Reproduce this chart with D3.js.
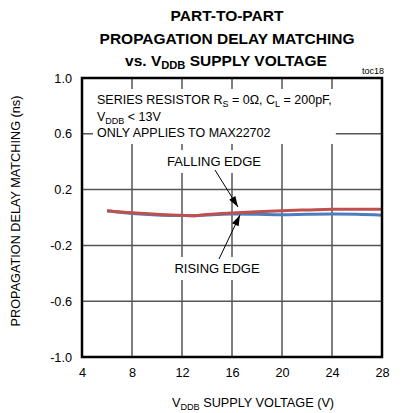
<!DOCTYPE html>
<html><head><meta charset="utf-8">
<script src="https://cdn.jsdelivr.net/npm/d3@7"></script>
<style>
html,body{margin:0;padding:0;background:#fff;}
svg text{font-family:"Liberation Sans",Arial,sans-serif;fill:#000;}
</style></head>
<body><svg id="c" width="404" height="413"></svg>
<script>
// ---- data ----
const voltage  = [6, 8, 10, 12, 13, 14, 16, 18, 20, 22, 24, 26, 28];
const falling  = [0.049, 0.034, 0.023, 0.016, 0.013, 0.021, 0.032, 0.041, 0.049, 0.054, 0.059, 0.060, 0.059];
const rising   = [0.049, 0.029, 0.018, 0.014, 0.013, 0.018, 0.025, 0.023, 0.020, 0.023, 0.025, 0.023, 0.016];
const xTicks = [4, 8, 12, 16, 20, 24, 28];
const yTicks = [-1.0, -0.6, -0.2, 0.2, 0.6, 1.0];

const svg = d3.select("#c");
const L = 82, R = 382, T = 78, B = 357;
const x = d3.scaleLinear().domain([4, 28]).range([L, R]);
const y = d3.scaleLinear().domain([-1, 1]).range([B, T]);

function rich(sel, segs) {
  segs.forEach(s => {
    if (s.sub) {
      sel.append("tspan").attr("font-size", "0.72em").attr("dy", 3).text(s.t);
    } else {
      const ts = sel.append("tspan").text(s.t);
      if (s.after) ts.attr("dy", -3);
    }
  });
  return sel;
}

// title
const title = svg.append("g").attr("font-weight", "bold").attr("font-size", 15.5).attr("text-anchor", "middle");
title.append("text").attr("x", 227).attr("y", 21).text("PART-TO-PART");
title.append("text").attr("x", 227).attr("y", 44).text("PROPAGATION DELAY MATCHING");
rich(title.append("text").attr("x", 226).attr("y", 66),
  [{t: "vs. V"}, {t: "DDB", sub: true}, {t: " SUPPLY VOLTAGE", after: true}]);
svg.append("text").attr("x", 384).attr("y", 74).attr("text-anchor", "end").attr("font-size", 9).text("toc18");

// grid
const grid = svg.append("g");
grid.selectAll("line.v").data(xTicks.slice(1, -1)).join("line")
  .attr("x1", d => x(d)).attr("x2", d => x(d)).attr("y1", T).attr("y2", B)
  .attr("stroke", "#000").attr("stroke-width", 1);
grid.selectAll("line.h").data(yTicks.slice(1, -1)).join("line")
  .attr("y1", d => y(d)).attr("y2", d => y(d)).attr("x1", L).attr("x2", R)
  .attr("stroke", "#555").attr("stroke-width", 1.5);

// axes labels
const yAxis = svg.append("g").attr("transform", `translate(${L},0)`)
  .call(d3.axisLeft(y).tickValues(yTicks).tickSize(0).tickPadding(10).tickFormat(d => d.toFixed(1)));
yAxis.select(".domain").remove();
yAxis.selectAll("text").attr("font-size", 12.7).attr("font-family", null);
const xAxis = svg.append("g").attr("transform", `translate(0,${B})`)
  .call(d3.axisBottom(x).tickValues(xTicks).tickSize(0).tickPadding(11).tickFormat(d => String(d)));
xAxis.select(".domain").remove();
xAxis.selectAll("text").attr("font-size", 12.7).attr("font-family", null);

svg.append("text").attr("transform", "translate(20,211) rotate(-90)").attr("text-anchor", "middle")
  .attr("font-size", 12.7).text("PROPAGATION DELAY MATCHING (ns)");
rich(svg.append("text").attr("x", 253).attr("y", 407).attr("text-anchor", "middle").attr("font-size", 12.7),
  [{t: "V"}, {t: "DDB", sub: true}, {t: " SUPPLY VOLTAGE (V)", after: true}]);

// annotation boxes
function boxed(g, pad) {
  const bb = g.node().getBBox();
  g.insert("rect", ":first-child").attr("x", bb.x - pad).attr("y", bb.y - pad)
    .attr("width", bb.width + 2 * pad).attr("height", bb.height + 2 * pad).attr("fill", "#fff");
}
const note = svg.append("g").attr("font-size", 12.5);
rich(note.append("text").attr("x", 97).attr("y", 104),
  [{t: "SERIES RESISTOR R"}, {t: "S", sub: true}, {t: " = 0Ω, C", after: true}, {t: "L", sub: true}, {t: " = 200pF,", after: true}]);
rich(note.append("text").attr("x", 97).attr("y", 121),
  [{t: "V"}, {t: "DDB", sub: true}, {t: " < 13V", after: true}]);
note.append("text").attr("x", 97).attr("y", 137).text("ONLY APPLIES TO MAX22702");
boxed(note, 4);

const fl = svg.append("g").attr("font-size", 13);
fl.append("text").attr("x", 214).attr("y", 166).attr("text-anchor", "middle").text("FALLING EDGE");
boxed(fl, 4);
const rl = svg.append("g").attr("font-size", 13);
rl.append("text").attr("x", 217).attr("y", 273).attr("text-anchor", "middle").text("RISING EDGE");
boxed(rl, 4);

// curves
const line = (vals) => d3.line().x((d, i) => x(voltage[i])).y(d => y(d)).curve(d3.curveMonotoneX)(vals);
svg.append("path").attr("d", line(rising)).attr("fill", "none").attr("stroke", "#4a7ebf").attr("stroke-width", 3);
svg.append("path").attr("d", line(falling)).attr("fill", "none").attr("stroke", "#c0504d").attr("stroke-width", 3);

// arrows
svg.append("defs").append("marker").attr("id", "ah").attr("viewBox", "0 0 12 10")
  .attr("refX", 12).attr("refY", 5).attr("markerWidth", 12).attr("markerHeight", 9)
  .attr("markerUnits", "userSpaceOnUse").attr("orient", "auto")
  .append("path").attr("d", "M0,1 L12,5 L0,9 Z").attr("fill", "#000");
svg.append("line").attr("x1", 215).attr("y1", 170).attr("x2", 238).attr("y2", 207)
  .attr("stroke", "#000").attr("stroke-width", 1).attr("marker-end", "url(#ah)");
svg.append("line").attr("x1", 219).attr("y1", 259).attr("x2", 240).attr("y2", 215)
  .attr("stroke", "#000").attr("stroke-width", 1).attr("marker-end", "url(#ah)");

// frame
svg.append("rect").attr("x", L).attr("y", T).attr("width", R - L).attr("height", B - T)
  .attr("fill", "none").attr("stroke", "#000").attr("stroke-width", 2.5);
</script></body></html>
